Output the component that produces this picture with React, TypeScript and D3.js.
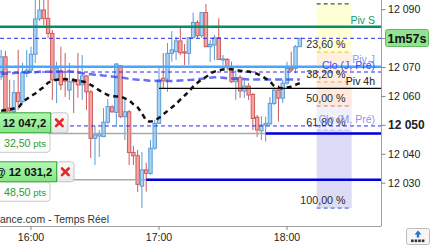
import React from 'react';
import * as d3 from 'd3';

// ---- data ----
const START_MIN = 946; // 15:46, 2-minute candles
const STEP_MIN = 2;
const opens = [12066.8,12073.7,12056.0,12054.7,12061.3,12058.2,12068.1,12069.1,12074.6,12086.8,12089.9,12087.0,12081.8,12065.7,12068.6,12066.0,12062.2,12065.7,12065.7,12064.0,12067.1,12061.6,12045.5,12046.3,12046.1,12051.1,12056.4,12054.5,12070.6,12053.0,12054.7,12040.6,12039.5,12029.0,12034.6,12033.4,12042.1,12050.7,12066.3,12066.0,12074.9,12075.5,12079.2,12075.4,12074.9,12080.3,12085.6,12081.0,12089.0,12077.2,12077.8,12080.3,12072.6,12072.8,12070.3,12065.1,12066.6,12061.9,12063.6,12060.7,12052.8,12048.1,12050.1,12050.5,12057.6,12062.2,12059.4,12064.6,12069.7,12069.7,12077.2];
const highs = [12076.1,12075.8,12065.7,12065.7,12076.1,12071.6,12076.1,12077.2,12094.5,12094.5,12094.0,12094.0,12083.0,12072.0,12077.2,12075.0,12071.6,12066.4,12075.0,12074.3,12067.4,12062.2,12049.8,12048.4,12056.0,12059.1,12057.0,12071.6,12070.9,12058.8,12055.3,12042.9,12041.5,12040.8,12037.1,12044.9,12051.9,12069.8,12075.0,12078.5,12082.6,12080.6,12083.6,12078.1,12080.6,12089.0,12086.4,12089.2,12092.0,12079.5,12081.3,12087.0,12074.3,12073.3,12072.0,12069.1,12067.4,12065.7,12064.7,12061.2,12053.6,12053.2,12053.0,12059.8,12063.3,12064.0,12065.7,12072.0,12075.5,12077.8,12080.2];
const lows = [12065.7,12054.2,12054.3,12054.3,12055.3,12057.7,12066.7,12068.1,12071.6,12086.1,12084.7,12080.2,12058.8,12057.7,12062.2,12059.8,12058.8,12054.3,12059.5,12058.8,12055.3,12038.7,12036.3,12039.1,12046.0,12050.5,12054.3,12049.4,12052.6,12044.9,12036.3,12036.3,12027.0,12021.4,12027.1,12032.8,12041.5,12050.5,12062.9,12061.6,12072.0,12072.6,12074.3,12070.9,12070.9,12080.2,12080.2,12080.2,12077.1,12071.9,12072.6,12072.6,12070.9,12069.1,12064.7,12058.8,12059.5,12059.5,12058.8,12048.4,12046.0,12044.9,12044.4,12050.1,12057.0,12051.3,12057.7,12064.0,12068.5,12068.0,12077.1];
const closes = [12073.7,12054.7,12055.0,12061.3,12058.2,12068.2,12069.1,12074.6,12086.8,12089.9,12087.0,12081.8,12065.7,12069.7,12064.0,12065.3,12065.1,12065.0,12064.0,12067.1,12061.6,12045.5,12046.7,12047.0,12051.1,12056.5,12054.7,12071.2,12053.0,12054.7,12040.6,12039.5,12029.6,12034.6,12033.4,12042.1,12050.7,12065.7,12065.4,12074.9,12076.1,12079.2,12075.1,12075.0,12080.3,12085.6,12081.0,12089.0,12077.2,12078.0,12080.3,12072.8,12073.0,12070.3,12065.1,12066.6,12061.9,12063.6,12060.5,12052.4,12048.4,12050.1,12050.7,12057.6,12062.2,12059.4,12064.6,12069.7,12069.1,12077.2,12080.1];
const maBlack = [12055.0,12055.3,12055.5,12055.8,12056.2,12057.9,12059.1,12060.2,12061.0,12062.2,12063.3,12064.7,12065.4,12065.8,12065.9,12066.0,12065.8,12065.7,12065.3,12065.2,12064.8,12064.0,12063.1,12062.1,12061.3,12060.5,12060.1,12060.0,12059.9,12059.3,12058.6,12057.3,12056.2,12054.1,12051.9,12051.3,12051.7,12052.6,12053.8,12055.0,12056.2,12057.4,12058.9,12060.3,12061.7,12063.4,12064.7,12065.9,12066.7,12067.9,12068.6,12069.0,12069.3,12069.4,12069.4,12069.1,12068.9,12068.7,12068.6,12068.2,12067.8,12067.1,12066.2,12065.2,12063.6,12063.1,12062.8,12063.1,12063.4,12064.0,12064.6];
const maBlue = [12067.8,12067.9,12068.0,12068.1,12068.2,12068.3,12068.3,12068.4,12068.4,12068.5,12068.5,12068.5,12068.6,12068.6,12068.6,12068.6,12068.6,12068.5,12068.3,12068.0,12067.8,12067.7,12067.5,12067.4,12067.2,12067.1,12066.9,12066.7,12066.6,12066.4,12066.1,12065.9,12065.8,12065.7,12065.6,12065.4,12065.4,12065.3,12065.3,12065.3,12065.3,12065.4,12065.5,12065.6,12065.7,12065.8,12066.0,12066.1,12066.3,12066.5,12066.6,12066.6,12066.5,12066.3,12066.2,12066.1,12066.0,12066.0,12065.9,12065.9,12065.9,12065.9,12065.9,12065.9,12065.9,12065.9,12065.9,12065.9,12065.9,12065.9,12065.9];

const yTicks = [12030, 12040, 12050, 12060, 12070, 12080, 12090];
// the 12 080 label sits under the countdown box in the original, so it is not shown
const yTickLabels = ['12 030', '12 040', '12 050', '12 060', '12 070', '', '12 090'];
const xTicks = [960, 1020, 1080];
const xTickLabels = ['16:00', '17:00', '18:00'];

const fibHigh = 12092.0;
const fibLow = 12021.4;
const fibRatios = [0, 0.236, 0.382, 0.5, 0.618, 1];
const fibLabels = ['', '23,60 %', '38,20 %', '50,00 %', '61,80 %', '100,00 %'];
const fibLineColors = ['#222222', '#f0c418', '#f2a23a', '#e8743a', '#b4bcf0', '#3a48ee'];
const fibZoneColors = ['#ffffd6', '#fff0e2', '#fde9de', '#eff0fb', '#dcdcf6'];

const pivS = 12084.1;
const lastPrice = 12080.1;
const pivJ = 12070.3;
const cloJ = 12068.45;
const piv4h = 12062.8;
const piv4hStartMin = 1020;
const cloM = 12049.8;
const orderPrices = [12047.2, 12031.2];
const orderLabels = ['12 047,2', '@ 12 031,2'];
const orderPts = ['32,50', '48,50'];
const orderStartMin = [1070, 1014];

const W = 430, H = 245;
const PLOT_R = 381, PLOT_B = 226;
const FONT = '"Liberation Sans", Arial, sans-serif';

export default function App() {
  const x = d3.scaleLinear().domain([945.47, 1124.06]).range([0, PLOT_R]);
  const y = d3.scaleLinear().domain([12015.2, 12093.35]).range([PLOT_B, 0]);
  const idx = d3.range(opens.length);
  const xi = (i: number) => x(START_MIN + STEP_MIN * i);

  const lineGen = (vals: number[]) =>
    d3.line<number>().x((_, i) => xi(i)).y((v) => y(v)).curve(d3.curveMonotoneX)(vals) || '';

  const fibY = fibRatios.map((r) => y(fibHigh - r * (fibHigh - fibLow)));
  const fx0 = 316.7, fx1 = 351.7;

  const orderBoxes = [
    { top: 112.3, w: 50.7, xw: 17.3 },
    { top: 161.3, w: 56.7, xw: 17.3 },
  ];

  return (
    <svg width={W} height={H} style={{ position: 'fixed', left: 0, top: 0, background: '#fff' }} fontFamily={FONT}>
      <defs>
        <linearGradient id="gbox" x1="0" y1="0" x2="0" y2="1">
          <stop offset="0" stopColor="#b4f7b4" />
          <stop offset="1" stopColor="#84e684" />
        </linearGradient>
        <linearGradient id="xbox" x1="0" y1="0" x2="0" y2="1">
          <stop offset="0" stopColor="#fbfbfb" />
          <stop offset="1" stopColor="#e8e8e8" />
        </linearGradient>
        <clipPath id="plot"><rect x={0} y={0} width={PLOT_R} height={PLOT_B} /></clipPath>
      </defs>
      <rect x={0} y={0} width={W} height={H} fill="#fff" />

      {/* fib zones */}
      {fibZoneColors.map((c, k) => (
        <rect key={'fz' + k} x={fx0} y={fibY[k]} width={fx1 - fx0} height={fibY[k + 1] - fibY[k]} fill={c} />
      ))}
      {fibY.map((fy, k) => (
        <line key={'fl' + k} x1={fx0} x2={fx1} y1={fy} y2={fy} stroke={fibLineColors[k]} strokeWidth={1} strokeDasharray="4,3" />
      ))}

      <g clipPath="url(#plot)">
        {/* candles */}
        {idx.map((i) => {
          const up = closes[i] >= opens[i];
          const cx = xi(i);
          const stroke = up ? '#5b9bd5' : '#cf5a5a';
          const fill = up ? '#a9d3f4' : '#f6a5a5';
          const yt = y(Math.max(opens[i], closes[i]));
          const yb = y(Math.min(opens[i], closes[i]));
          return (
            <g key={'c' + i}>
              <line x1={cx} x2={cx} y1={y(highs[i])} y2={y(lows[i])} stroke={stroke} strokeWidth={1} />
              <rect x={cx - 1.7} y={yt} width={3.4} height={Math.max(1, yb - yt)} fill={fill} stroke={stroke} strokeWidth={1} />
            </g>
          );
        })}

        {/* horizontal levels */}
        <line x1={0} x2={PLOT_R} y1={y(pivS)} y2={y(pivS)} stroke="#00916a" strokeWidth={2.5} />
        <line x1={0} x2={PLOT_R} y1={y(lastPrice)} y2={y(lastPrice)} stroke="#2a2af0" strokeWidth={1} strokeDasharray="4,3" />
        <line x1={0} x2={PLOT_R} y1={y(pivJ)} y2={y(pivJ)} stroke="#47a6ff" strokeWidth={2.5} />
        <line x1={0} x2={PLOT_R} y1={y(cloJ)} y2={y(cloJ)} stroke="#2a2af0" strokeWidth={1} strokeDasharray="4,3" />
        <line x1={x(piv4hStartMin)} x2={PLOT_R} y1={y(piv4h)} y2={y(piv4h)} stroke="#000" strokeWidth={1.2} />
        <line x1={0} x2={PLOT_R} y1={y(cloM)} y2={y(cloM)} stroke="#2a2af0" strokeWidth={1} strokeDasharray="4,3" />
        {orderPrices.map((p, k) => (
          <g key={'o' + k}>
            <line x1={0} x2={PLOT_R} y1={y(p)} y2={y(p)} stroke="#a8a8a8" strokeWidth={1.5} />
            <line x1={x(orderStartMin[k])} x2={PLOT_R} y1={y(p)} y2={y(p)} stroke="#0000e0" strokeWidth={2.5} />
          </g>
        ))}

        {/* moving averages */}
        <path d={lineGen(maBlue)} fill="none" stroke="#3440f0" strokeOpacity={0.75} strokeWidth={2.5} strokeDasharray="7,4" />
        <path d={lineGen(maBlack)} fill="none" stroke="#111" strokeWidth={2.5} strokeDasharray="5,4" />
      </g>

      {/* fib labels */}
      {fibLabels.map((t, k) =>
        t ? (
          <text key={'ft' + k} x={345.5} y={fibY[k] - 4} textAnchor="end" fontSize={10.7} fill="#2a2a2a">{t}</text>
        ) : null
      )}

      {/* level labels */}
      <text x={375} y={y(pivS) - 2.8} textAnchor="end" fontSize={10.5} fill="#109a70">Piv S</text>
      <text x={375} y={y(pivJ) - 3.5} textAnchor="end" fontSize={10.5} fill="#8c9cff">Piv J</text>
      <text x={375} y={y(cloJ) - 3.5} textAnchor="end" fontSize={10.5} fill="#3d4cf5">Clo (J, Pré)</text>
      <text x={375} y={y(piv4h) - 3.3} textAnchor="end" fontSize={10.5} fill="#111">Piv 4h</text>
      <text x={375} y={y(cloM) - 3} textAnchor="end" fontSize={10.5} fill="#7f86f2" fillOpacity={0.9}>Clo (M, Pré)</text>

      {/* axes frame */}
      <line x1={PLOT_R + 0.5} x2={PLOT_R + 0.5} y1={0} y2={PLOT_B} stroke="#a0a0a0" strokeWidth={1} />
      <line x1={0} x2={PLOT_R + 0.5} y1={PLOT_B + 0.5} y2={PLOT_B + 0.5} stroke="#a0a0a0" strokeWidth={1} />
      {yTicks.map((t, k) => (
        <g key={'yt' + k}>
          <line x1={PLOT_R} x2={PLOT_R + 4.5} y1={y(t)} y2={y(t)} stroke="#888" strokeWidth={1} />
          {yTickLabels[k] ? (
            <text x={388} y={y(t) + 3.8} fontSize={t === 12050 ? 12 : 10.6} fontWeight={t === 12050 ? 'bold' : 'normal'} fill="#222">{yTickLabels[k]}</text>
          ) : null}
        </g>
      ))}
      {xTicks.map((t, k) => (
        <g key={'xt' + k}>
          <line x1={x(t)} x2={x(t)} y1={PLOT_B} y2={PLOT_B + 4} stroke="#888" strokeWidth={1} />
          <text x={x(t)} y={240.5} textAnchor="middle" fontSize={10.5} fill="#222">{xTickLabels[k]}</text>
        </g>
      ))}

      {/* countdown box */}
      <rect x={385.5} y={29.5} width={43} height={17} rx={2} fill="#8fe48f" stroke="#5fbf5f" strokeWidth={1} />
      <text x={407} y={42.5} textAnchor="middle" fontSize={12.5} fontWeight="bold" fill="#111">1m57s</text>

      {/* order boxes */}
      {orderBoxes.map((b, k) => (
        <g key={'ob' + k}>
          <rect x={b.w} y={b.top + 0.5} width={b.xw} height={20} rx={3} fill="url(#xbox)" stroke="#c4c4c4" strokeWidth={1} />
          <g stroke="#e02a2a" strokeWidth={2.6} strokeLinecap="round">
            <line x1={b.w + b.xw / 2 - 3.3} x2={b.w + b.xw / 2 + 3.3} y1={b.top + 7.2} y2={b.top + 13.8} />
            <line x1={b.w + b.xw / 2 - 3.3} x2={b.w + b.xw / 2 + 3.3} y1={b.top + 13.8} y2={b.top + 7.2} />
          </g>
          <rect x={-3} y={b.top + 20.5} width={53} height={19.5} rx={3} fill="#fdfdfd" stroke="#c8c8c8" strokeWidth={1} />
          <rect x={-3} y={b.top + 0.5} width={b.w + 3} height={20} fill="url(#gbox)" stroke="#2fa52f" strokeWidth={1} />
          <text x={b.w - 4.5} y={b.top + 14.7} textAnchor="end" fontSize={11.2} fontWeight="bold" fill="#111">{orderLabels[k]}</text>
          <text x={4} y={b.top + 35} fontSize={10.6} fill="#2f9e2f">
            {orderPts[k]}
            <tspan fontSize={9.6}> pts</tspan>
          </text>
        </g>
      ))}

      {/* source text */}
      <text x={0} y={223} fontSize={10.4} fill="#333">ance.com - Temps Réel</text>

      {/* corner icon */}
      <rect x={406.5} y={228.5} width={23} height={16} rx={2} fill="#f6f6f6" stroke="#bdbdbd" strokeWidth={1} />
      <path d="M418 230.5 L421.5 234.5 L419.2 234.5 L419.2 237.5 L416.8 237.5 L416.8 234.5 L414.5 234.5 Z" fill="#2a6fd6" />
      {[0, 1, 2, 3].map((k) => (
        <rect key={'sq' + k} x={411 + k * 3.6} y={239.5} width={2.6} height={2.6} fill="#333" />
      ))}
    </svg>
  );
}
